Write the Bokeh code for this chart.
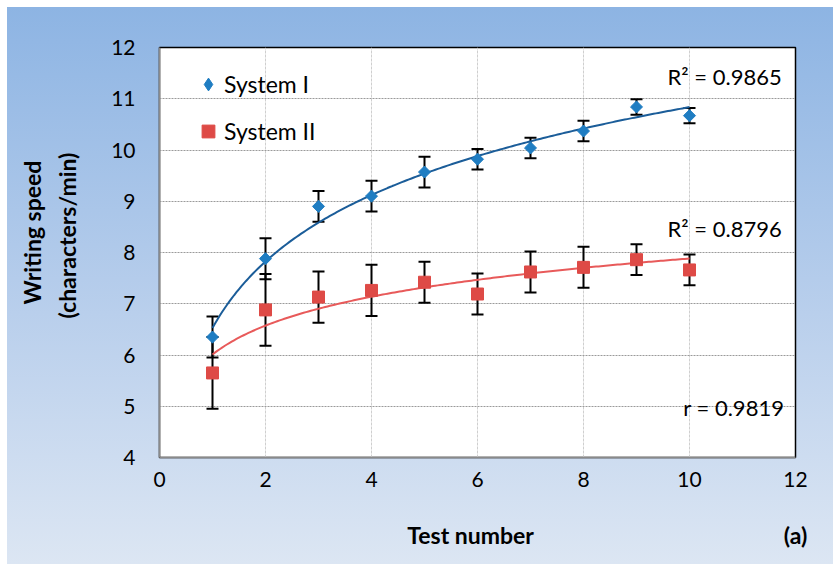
import numpy as np
from bokeh.plotting import figure
from bokeh.models import (ColumnDataSource, Whisker, TeeHead, Label, Legend,
                          LegendItem, FixedTicker, LinearAxis)
from bokeh.embed import file_html
from bokeh.resources import INLINE

# ---- data ----
test_number = [1, 2, 3, 4, 5, 6, 7, 8, 9, 10]
sys1_speed = [6.35, 7.88, 8.90, 9.10, 9.57, 9.82, 10.04, 10.37, 10.84, 10.67]
sys1_err = [0.40, 0.40, 0.30, 0.30, 0.30, 0.20, 0.20, 0.20, 0.15, 0.15]
sys2_speed = [5.65, 6.88, 7.13, 7.26, 7.42, 7.19, 7.62, 7.71, 7.86, 7.66]
sys2_err = [0.70, 0.70, 0.50, 0.50, 0.40, 0.40, 0.40, 0.40, 0.30, 0.30]
series_names = ["System I", "System II"]
x_ticks = [0, 2, 4, 6, 8, 10, 12]
y_ticks = [4, 5, 6, 7, 8, 9, 10, 11, 12]
r2_texts = ["R\u00b2 = 0.9865", "R\u00b2 = 0.8796"]
r_text = "r = 0.9819"
x_title = "Test number"
y_title_lines = ["Writing speed", "(characters/min)"]
panel_tag = "(a)"

FONT = "Lato"
BLUE = "#1f7dc2"
BLUE_LINE = "#1b5d99"
RED = "#de4a46"
RED_LINE = "#e85a5a"

p = figure(width=826, height=557, x_range=(0, 12), y_range=(4, 12),
           output_backend="svg", toolbar_location=None,
           min_border_left=152, min_border_right=38,
           min_border_top=40, min_border_bottom=107)
p.margin = (7, 0, 0, 7)
p.styles = {"background": "linear-gradient(to bottom, #8db4e3 0%, #b9cfec 55%, #dce6f3 100%)"}
p.border_fill_color = None
p.background_fill_color = "white"
p.outline_line_color = "black"
p.outline_line_width = 1.5

# grid
p.xgrid.ticker = FixedTicker(ticks=x_ticks)
p.ygrid.ticker = FixedTicker(ticks=y_ticks)
p.xgrid.grid_line_color = "#cfcfcf"
p.xgrid.grid_line_dash = "3 1"
p.ygrid.grid_line_color = "#9a9a9a"
p.ygrid.grid_line_dash = "2 1"

# axes
for ax, ticks in ((p.xaxis[0], x_ticks), (p.yaxis[0], y_ticks)):
    ax.ticker = FixedTicker(ticks=ticks)
    ax.major_tick_line_color = None
    ax.minor_tick_line_color = None
    ax.major_tick_out = 0
    ax.major_tick_in = 0
    ax.axis_line_color = "#8a8a8a"
    ax.axis_line_width = 1.5
    ax.major_label_text_font = FONT
    ax.major_label_text_font_size = "21px"
    ax.major_label_text_color = "black"
p.yaxis[0].major_label_standoff = 24
p.xaxis[0].major_label_standoff = 14

# line-less title axes: their single tick labels carry the axis titles
title_style = dict(axis_line_color=None, major_tick_line_color=None,
                   minor_tick_line_color=None, major_tick_in=0, major_tick_out=0,
                   major_label_text_font=FONT, major_label_text_font_style="bold",
                   major_label_text_font_size="23px", major_label_text_color="black")

X_TITLE_POS = 5.87   # x data position of the x title
TAG_POS = 12         # x data position of the panel tag
p.add_layout(LinearAxis(ticker=FixedTicker(ticks=[X_TITLE_POS, TAG_POS]),
                        major_label_overrides={X_TITLE_POS: x_title, TAG_POS: panel_tag},
                        major_label_standoff=31, **title_style), "below")

Y_TITLE_POS = [8.39, 8.33]   # y data positions of the two title lines
p.add_layout(LinearAxis(ticker=FixedTicker(ticks=[Y_TITLE_POS[1]]),
                        major_label_overrides={Y_TITLE_POS[1]: y_title_lines[1]},
                        major_label_orientation="parallel",
                        major_label_standoff=27, **title_style), "left")
p.add_layout(LinearAxis(ticker=FixedTicker(ticks=[Y_TITLE_POS[0]]),
                        major_label_overrides={Y_TITLE_POS[0]: y_title_lines[0]},
                        major_label_orientation="parallel",
                        major_label_standoff=4, **title_style), "left")

x = np.array(test_number, dtype=float)
xs = np.linspace(1, 10, 200)

sources = []
for spd, err in ((sys1_speed, sys1_err), (sys2_speed, sys2_err)):
    spd = np.array(spd)
    err = np.array(err)
    sources.append(ColumnDataSource(dict(x=x, y=spd, upper=spd + err, lower=spd - err)))

# error bars
for src in sources:
    w = Whisker(base="x", upper="upper", lower="lower", source=src,
                line_color="black", line_width=2,
                upper_head=TeeHead(size=12, line_color="black", line_width=2),
                lower_head=TeeHead(size=12, line_color="black", line_width=2))
    p.add_layout(w)

# logarithmic trend lines (least squares fit on the data)
for spd, col in ((sys1_speed, BLUE_LINE), (sys2_speed, RED_LINE)):
    a, b = np.polyfit(np.log(x), np.array(spd), 1)
    p.line(xs, a * np.log(xs) + b, line_color=col, line_width=2)

# System I: a diamond key renderer (hidden under the rotated squares) for the legend
k1 = p.scatter("x", "y", source=sources[0], marker="diamond", size=11,
               fill_color=BLUE, line_color=BLUE)
r1 = p.scatter("x", "y", source=sources[0], marker="square", angle=np.pi / 4,
               size=8.5, fill_color=BLUE, line_color=BLUE)
r2 = p.scatter("x", "y", source=sources[1], marker="square",
               size=12, fill_color=RED, line_color=RED)

legend = Legend(items=[LegendItem(label=series_names[0], renderers=[k1]),
                       LegendItem(label=series_names[1], renderers=[r2])],
                location=(33, 310), orientation="vertical",
                padding=0, margin=0, spacing=15,
                glyph_width=32, glyph_height=32, label_height=32,
                label_standoff=0, label_text_color="black",
                label_text_font=FONT, label_text_font_size="23px",
                border_line_color=None, background_fill_alpha=0)
p.add_layout(legend)

# annotations
for txt, yv in zip(r2_texts, (11.43, 8.47)):
    p.add_layout(Label(x=11.74, y=yv, text=txt, text_align="right",
                       text_baseline="middle", text_font=FONT,
                       text_font_size="22px", text_color="black"))
p.add_layout(Label(x=11.79, y=4.98, text=r_text, text_align="right",
                   text_baseline="middle", text_font=FONT,
                   text_font_size="22px", text_color="black"))

open("out.html", "w").write(file_html(p, INLINE))
